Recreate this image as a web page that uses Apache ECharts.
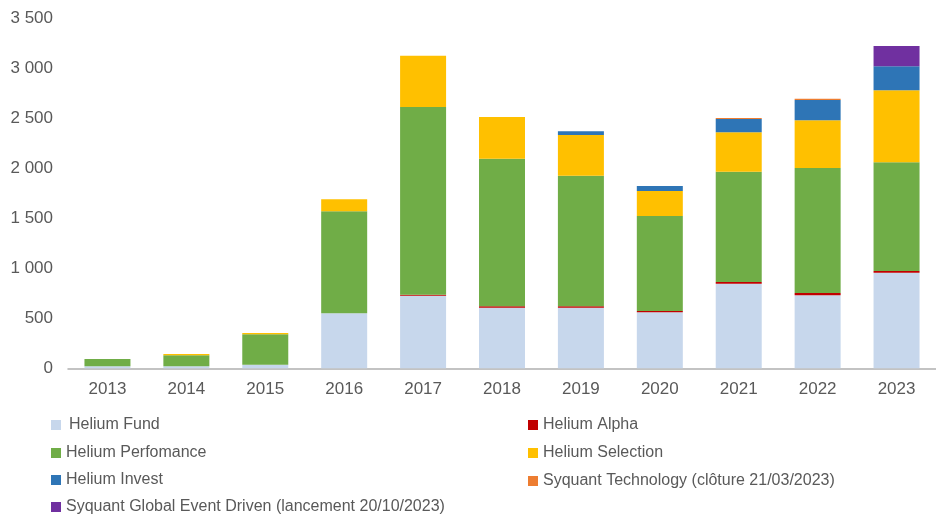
<!DOCTYPE html>
<html lang="fr">
<head>
  <meta charset="UTF-8">
  <title>Encours par fonds</title>
  <style>
    * { margin: 0; padding: 0; }
    html, body { width: 936px; height: 519px; background: #fff; overflow: hidden; }
    #chart { width: 936px; height: 519px; }
  </style>
</head>
<body>
  <div id="chart"></div>
  <script src="https://cdn.jsdelivr.net/npm/echarts@6/dist/echarts.min.js"></script>
  <script>
    // données
    const years = ['2013', '2014', '2015', '2016', '2017', '2018', '2019', '2020', '2021', '2022', '2023'];
    const heliumFund        = [20, 20, 36, 550, 726, 606, 606, 560, 846, 730, 956];
    const heliumAlpha       = [0, 0, 0, 0, 10, 15, 15, 13, 17, 23, 17];
    const heliumPerformance = [73, 110, 304, 1020, 1877, 1475, 1305, 950, 1103, 1250, 1087];
    const heliumSelection   = [0, 13, 13, 120, 513, 417, 407, 250, 394, 477, 720];
    const heliumInvest      = [0, 0, 0, 0, 0, 0, 37, 50, 133, 203, 240];
    const syquantTech       = [0, 0, 0, 0, 0, 0, 0, 0, 10, 13, 0];
    const syquantGED        = [0, 0, 0, 0, 0, 0, 0, 0, 0, 0, 203];

    // left / top = position de chaque entrée de légende (deux colonnes)
    const seriesDefs = [
      { name: 'Helium Fund', data: heliumFund, color: '#c7d7ec', left: 51, top: 415, pad: 3 },
      { name: 'Helium Alpha', data: heliumAlpha, color: '#c00000', left: 528, top: 415 },
      { name: 'Helium Perfomance', data: heliumPerformance, color: '#70ad47', left: 51, top: 443 },
      { name: 'Helium Selection', data: heliumSelection, color: '#ffc000', left: 528, top: 443 },
      { name: 'Helium Invest', data: heliumInvest, color: '#2e75b6', left: 51, top: 470 },
      { name: 'Syquant Technology (clôture 21/03/2023)', data: syquantTech, color: '#ed7d31', left: 528, top: 471 },
      { name: 'Syquant Global Event Driven (lancement 20/10/2023)', data: syquantGED, color: '#7030a0', left: 51, top: 497 }
    ];

    const font = 'Liberation Sans, Arial, sans-serif';
    const chart = echarts.init(document.getElementById('chart'), null, { renderer: 'canvas' });

    chart.setOption({
      animation: false,
      grid: { left: 68, top: 18.3, width: 878, height: 350, containLabel: false },
      legend: seriesDefs.map(s => ({
        left: s.left,
        top: s.top,
        padding: 0,
        icon: 'rect',
        itemWidth: 10,
        itemHeight: 10,
        selectedMode: false,
        data: [s.name],
        textStyle: {
          fontFamily: font, fontSize: 16, color: '#595959', lineHeight: 20,
          padding: [0, 0, 0, s.pad || 0]
        }
      })),
      xAxis: {
        type: 'category',
        data: years,
        axisLine: { lineStyle: { color: '#b0b0b0', width: 1.5 } },
        axisTick: { show: false },
        axisLabel: { interval: 0, margin: 13, fontFamily: font, fontSize: 17, color: '#595959' }
      },
      yAxis: {
        type: 'value',
        min: 0,
        max: 3500,
        interval: 500,
        splitLine: { show: false },
        axisLine: { show: false },
        axisTick: { show: false },
        axisLabel: {
          margin: 15,
          fontFamily: font,
          fontSize: 17,
          color: '#595959',
          formatter: v => String(v).replace(/\B(?=(\d{3})+(?!\d))/g, ' ')
        }
      },
      series: seriesDefs.map(s => ({
        name: s.name,
        type: 'bar',
        stack: 'total',
        barWidth: 46,
        data: s.data,
        itemStyle: { color: s.color }
      }))
    });
  </script>
</body>
</html>
